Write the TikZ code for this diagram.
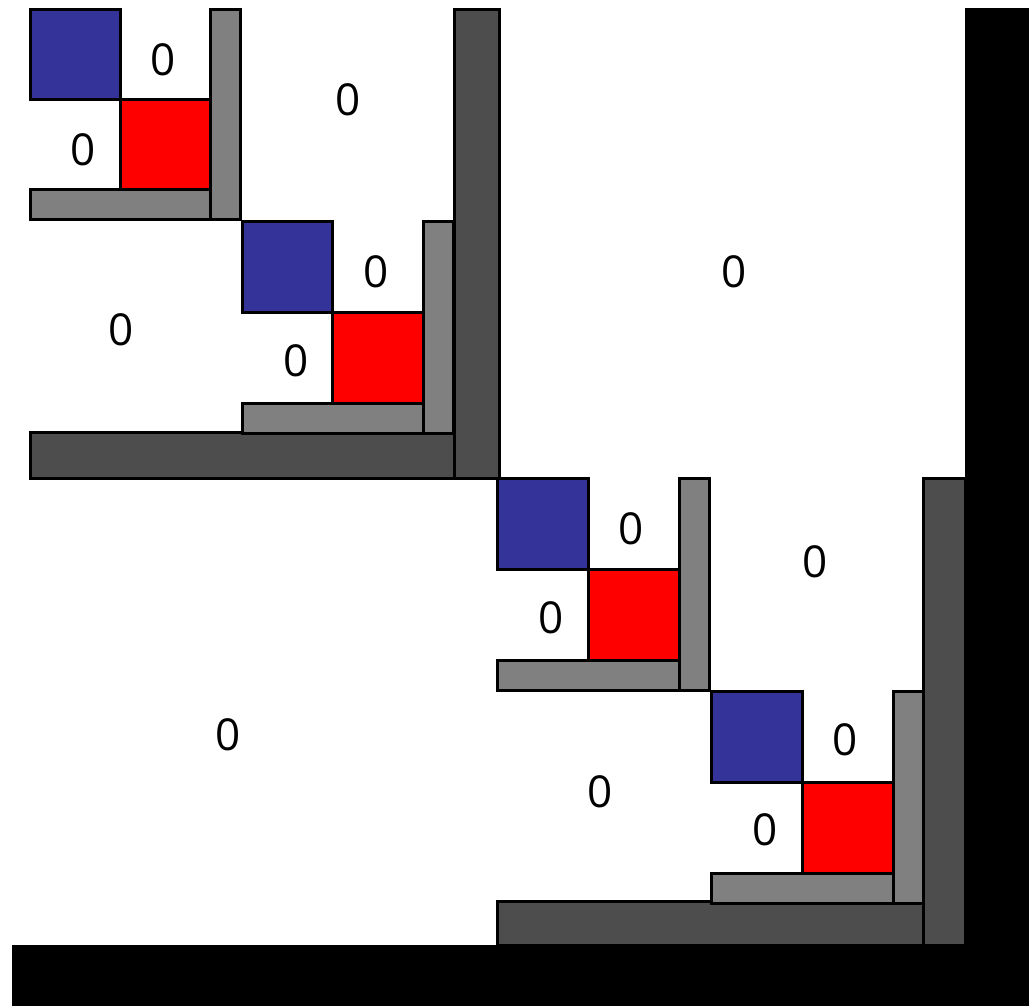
\documentclass[tikz,border=0pt]{standalone}
\usepackage{fontspec}
\setmainfont{Open Sans}
\definecolor{cblue}{HTML}{333399}
\definecolor{cred}{HTML}{FF0000}
\definecolor{cgray}{HTML}{808080}
\definecolor{cdark}{HTML}{4D4D4D}
\tikzset{
  cell/.style={draw=black, line width=3pt},
  zero/.style={inner sep=0pt, font=\fontsize{44}{44}\selectfont}
}
\begin{document}
\begin{tikzpicture}[x=1pt,y=-1pt]
\useasboundingbox (0,0) rectangle (1029,1006);
% black outer bars
\fill[black] (965,8) rectangle (1029,945);
\fill[black] (12,945) rectangle (1029,1006);
% dark gray level-1 bars
\draw[cell, fill=cdark] (454,10) rectangle (499,478);
\draw[cell, fill=cdark] (30,432) rectangle (454,478);
\draw[cell, fill=cdark] (923,478) rectangle (965,945);
\draw[cell, fill=cdark] (497,901) rectangle (923,945);
% small blocks
\foreach \x/\y/\s in {30/10/90, 242/222/90.5, 497/478/91, 711/691/91}{
  \draw[cell, fill=cblue] (\x,\y) rectangle ({\x+\s},{\y+\s});
  \draw[cell, fill=cred] ({\x+\s},{\y+\s}) rectangle ({\x+2*\s},{\y+2*\s});
  \draw[cell, fill=cgray] ({\x+2*\s},\y) rectangle ({\x+2*\s+30},{\y+2*\s+30});
  \draw[cell, fill=cgray] (\x,{\y+2*\s}) rectangle ({\x+2*\s},{\y+2*\s+30});
}
% zeros
\node[zero] (z1) at (163,60) {0};
\node[zero] (z2) at (83,150) {0};
\node[zero] (z3) at (348,100) {0};
\node[zero] (z4) at (376,272) {0};
\node[zero] (z5) at (296,361) {0};
\node[zero] (z6) at (121,330) {0};
\node[zero] (z7) at (734,272) {0};
\node[zero] (z8) at (631,529) {0};
\node[zero] (z9) at (551,618) {0};
\node[zero] (z10) at (815,562) {0};
\node[zero] (z11) at (845,740) {0};
\node[zero] (z12) at (765,830) {0};
\node[zero] (z13) at (600,792) {0};
\node[zero] (z14) at (228,735) {0};
\end{tikzpicture}
\end{document}
